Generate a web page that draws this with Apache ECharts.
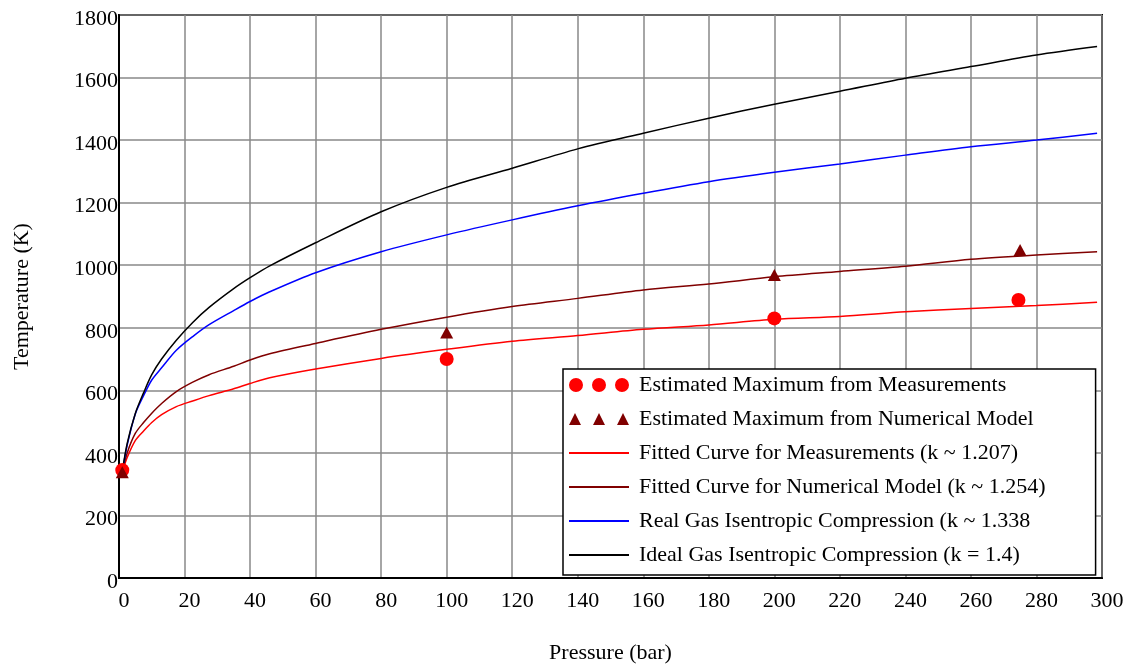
<!DOCTYPE html>
<html>
<head>
<meta charset="utf-8">
<script src="https://cdn.jsdelivr.net/npm/echarts@6/dist/echarts.min.js"></script>
<style>
html,body{margin:0;padding:0;background:#fff;}
#chart{width:1134px;height:666px;}
</style>
</head>
<body>
<div id="chart"></div>
<script>
// Data
var pressureCurve = [1, 2.5, 5, 7.5, 10, 13, 17.5, 22.5, 27.5, 35, 40, 46, 60, 80, 100, 120, 140, 160, 180, 200, 220, 240, 260, 280, 298.5];
var idealGas   = [340, 430, 527, 592, 650, 700, 760, 817, 865, 925, 960, 998, 1072, 1171, 1249, 1310, 1372, 1422, 1470, 1515, 1556, 1598, 1635, 1672, 1699];
var realGas    = [340, 425, 525, 583, 633, 672, 728, 772, 810, 855, 884, 915, 976, 1043, 1097, 1145, 1190, 1230, 1267, 1297, 1324, 1352, 1379, 1400, 1422];
var fitNumeric = [338, 400, 463, 497, 527, 558, 596, 626, 650, 677, 697, 717, 750, 795, 834, 868, 894, 921, 940, 963, 980, 997, 1019, 1033, 1043];
var fitMeasure = [338, 385, 440, 470, 497, 522, 548, 566, 583, 605, 622, 640, 668, 702, 731, 757, 775, 795, 809, 827, 836, 851, 862, 871, 882];

var measPressure = [1, 100, 200, 274.5];
var measTemp     = [345, 700, 830, 889];
var numPressure  = [1, 100, 200, 275];
var numTemp      = [338, 785, 969, 1049];

var xTicks = [0, 20, 40, 60, 80, 100, 120, 140, 160, 180, 200, 220, 240, 260, 280, 300];
var yTicks = [0, 200, 400, 600, 800, 1000, 1200, 1400, 1600, 1800];

var names = [
  'Estimated Maximum from Measurements',
  'Estimated Maximum from Numerical Model',
  'Fitted Curve for Measurements (k ~ 1.207)',
  'Fitted Curve for Numerical Model (k ~ 1.254)',
  'Real Gas Isentropic Compression (k ~ 1.338',
  'Ideal Gas Isentropic Compression (k = 1.4)'
];

function zip(xs, ys){ return xs.map(function(x,i){ return [x, ys[i]]; }); }

var FONT = 'Liberation Serif';
var chart = echarts.init(document.getElementById('chart'));

var lineIcon = 'path://M0,0L60,0L60,2L0,2Z';
var circIcon = 'path://M0,7a7,7 0 1,0 14,0a7,7 0 1,0 -14,0Z M23,7a7,7 0 1,0 14,0a7,7 0 1,0 -14,0Z M46,7a7,7 0 1,0 14,0a7,7 0 1,0 -14,0Z';
var triIcon = 'path://M6,0L12,12L0,12Z M30,0L36,12L24,12Z M54,0L60,12L48,12Z';

function lineSeries(name, data, color){
  return {
    name: name, type: 'line', data: zip(pressureCurve, data),
    showSymbol: false, symbol: 'none', smooth: 0.3,
    lineStyle: {color: color, width: 1.5}, itemStyle: {color: color},
    animation: false, z: 3
  };
}

chart.setOption({
  animation: false,
  backgroundColor: '#fff',
  grid: {left: 119, right: 32, top: 15, bottom: 88, show: true, borderColor: '#000', borderWidth: 2,
         containLabel: false, outerBoundsMode: 'none'},
  legend: {
    orient: 'vertical', left: 563, top: 369,
    padding: [5, 50, 9, 6],
    itemWidth: 60, itemHeight: 14, itemGap: 12,
    backgroundColor: '#fff', borderColor: '#000', borderWidth: 1.5,
    textStyle: {fontFamily: FONT, fontSize: 22, color: '#000', padding: [0, 0, 0, 5]},
    data: [
      {name: names[0], icon: circIcon},
      {name: names[1], icon: triIcon},
      {name: names[2], icon: lineIcon},
      {name: names[3], icon: lineIcon},
      {name: names[4], icon: lineIcon},
      {name: names[5], icon: lineIcon}
    ]
  },
  xAxis: {
    type: 'value', min: 0, max: 300, interval: 20,
    name: 'Pressure (bar)', nameLocation: 'middle', nameGap: 64,
    nameTextStyle: {fontFamily: FONT, fontSize: 22, color: '#000'},
    axisLine: {lineStyle: {color: '#000', width: 2}},
    axisTick: {show: false},
    axisLabel: {fontFamily: FONT, fontSize: 22, color: '#000', margin: 12, padding: [0, 0, 0, 10],
      formatter: function(v){ return xTicks.indexOf(v) >= 0 ? String(v) : ''; }},
    splitLine: {show: true, lineStyle: {color: '#888', width: 1.5}}
  },
  yAxis: {
    type: 'value', min: 0, max: 1800, interval: 200,
    name: 'Temperature (K)', nameLocation: 'middle', nameGap: 86, nameRotate: 90,
    nameTextStyle: {fontFamily: FONT, fontSize: 22, color: '#000'},
    axisLine: {show: true, lineStyle: {color: '#000', width: 2}},
    axisTick: {show: false},
    axisLabel: {color: '#000', margin: 1,
      formatter: function(v){ return yTicks.indexOf(v) >= 0 ? '{a|' + v + '}' : ''; },
      rich: {a: {fontFamily: FONT, fontSize: 22, color: '#000', padding: [8, 0, 0, 0]}}},
    splitLine: {show: true, lineStyle: {color: '#888', width: 1.5}}
  },
  series: [
    {name: names[0], type: 'scatter', data: zip(measPressure, measTemp), symbol: 'circle', symbolSize: 14,
     itemStyle: {color: '#ff0000', opacity: 1}, z: 5},
    {name: names[1], type: 'scatter', data: zip(numPressure, numTemp), symbol: 'triangle', symbolSize: [13, 12],
     itemStyle: {color: '#800000', opacity: 1}, z: 5},
    lineSeries(names[2], fitMeasure, '#ff0000'),
    lineSeries(names[3], fitNumeric, '#800000'),
    lineSeries(names[4], realGas, '#0000ff'),
    lineSeries(names[5], idealGas, '#000000')
  ]
});
</script>
</body>
</html>
